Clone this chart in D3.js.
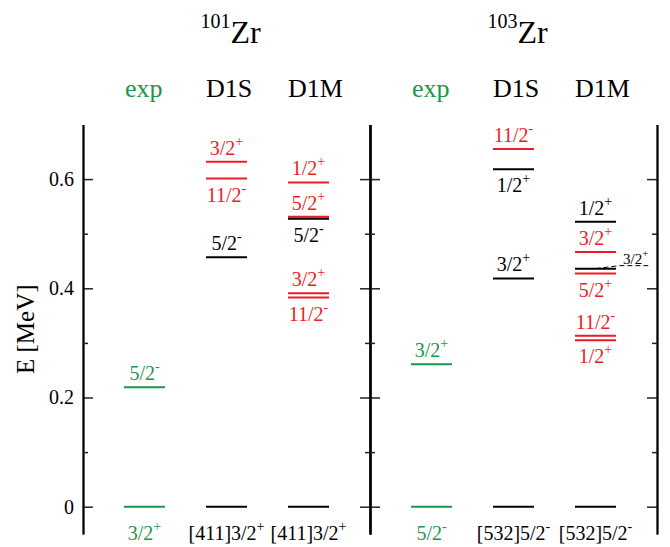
<!DOCTYPE html>
<html>
<head>
<meta charset="utf-8">
<script src="https://cdn.jsdelivr.net/npm/d3@7"></script>
<style>
  html, body { margin: 0; padding: 0; background: #fff; }
  svg { display: block; font-family: "Liberation Serif", "Times New Roman", serif; }
</style>
</head>
<body>
<svg id="chart" width="670" height="547"></svg>
<script>
// Nuclei and the three level schemes shown for each
const massNumbers = ["101", "103"];
const methods = ["exp", "D1S", "D1M"];

// Energy levels in MeV; J = spin label, P = parity, alt = second (red) set,
// label = where the spin label sits relative to its level
const zr101Exp = [
  { E: 0,     J: "3/2",      P: "+", label: "ground" },
  { E: 0.219, J: "5/2",      P: "-", label: "above" }
];
const zr101D1S = [
  { E: 0,     J: "[411]3/2", P: "+", label: "ground" },
  { E: 0.457, J: "5/2",      P: "-", label: "above" },
  { E: 0.601, J: "11/2",     P: "-", label: "below", alt: true },
  { E: 0.632, J: "3/2",      P: "+", label: "above", alt: true }
];
const zr101D1M = [
  { E: 0,      J: "[411]3/2", P: "+", label: "ground" },
  { E: 0.383,  J: "11/2",     P: "-", label: "below", alt: true },
  { E: 0.391,  J: "3/2",      P: "+", label: "above", alt: true },
  { E: 0.531,  J: "5/2",      P: "+", label: "above", alt: true },
  { E: 0.5275, J: "5/2",      P: "-", label: "below" },
  { E: 0.594,  J: "1/2",      P: "+", label: "above", alt: true }
];
const zr103Exp = [
  { E: 0,     J: "5/2",      P: "-", label: "ground" },
  { E: 0.261, J: "3/2",      P: "+", label: "above" }
];
const zr103D1S = [
  { E: 0,     J: "[532]5/2", P: "-", label: "ground" },
  { E: 0.418, J: "3/2",      P: "+", label: "above" },
  { E: 0.618, J: "1/2",      P: "+", label: "below" },
  { E: 0.655, J: "11/2",     P: "-", label: "above", alt: true }
];
const zr103D1M = [
  { E: 0,      J: "[532]5/2", P: "-", label: "ground" },
  { E: 0.305,  J: "1/2",      P: "+", label: "below", alt: true },
  { E: 0.313,  J: "11/2",     P: "-", label: "above", alt: true },
  { E: 0.427,  J: "5/2",      P: "+", label: "below", alt: true },
  { E: 0.4665, J: "3/2",      P: "+", label: "above", alt: true },
  { E: 0.436,  J: "3/2",      P: "+", label: "aside" },
  { E: 0.522,  J: "1/2",      P: "+", label: "above" }
];

const schemes = {
  "101": { exp: zr101Exp, D1S: zr101D1S, D1M: zr101D1M },
  "103": { exp: zr103Exp, D1S: zr103D1S, D1M: zr103D1M }
};

const yTicksMajor = [0, 0.2, 0.4, 0.6];
const yTicksMinor = [0.1, 0.3, 0.5];
const yDomain = [-0.05, 0.7];

// ---- layout ----
const svg = d3.select("#chart");
const FONT = "'Liberation Serif', 'Times New Roman', serif";
const GREEN = "#1b9748";
const RED = "#ec1c24";
const BLACK = "#000";

const y = d3.scaleLinear().domain(yDomain).range([534, 124.5]);
const panelX = d3.scaleBand().domain(massNumbers).range([83, 657]);
const colX = d3.scalePoint().domain(methods).range([61.5, 225.5]);
const halfW = 20.5;

function levelColor(method, d) {
  if (method === "exp") return GREEN;
  return d.alt ? RED : BLACK;
}

// ---- axes ----
function styleAxis(g) {
  g.selectAll("path.domain").attr("stroke", "#000").attr("stroke-width", 1.8);
  g.selectAll(".tick line").attr("stroke", "#222").attr("stroke-width", 1.5);
  g.selectAll(".tick text").attr("font-family", FONT).attr("font-size", 20).attr("fill", "#000");
}

const xLeft = panelX("101");
const xMid = panelX("103");
const xRight = panelX("103") + panelX.bandwidth();

// left axis: ticks pointing inward, labels outside
svg.append("g").attr("transform", `translate(${xLeft},0)`)
  .call(d3.axisLeft(y).tickValues(yTicksMajor).tickSizeInner(-10).tickSizeOuter(0)
    .tickPadding(9).tickFormat(d => d === 0 ? "0" : d3.format(".1f")(d)))
  .call(styleAxis);
svg.append("g").attr("transform", `translate(${xLeft},0)`)
  .call(d3.axisLeft(y).tickValues(yTicksMinor).tickSizeInner(-5).tickSizeOuter(0).tickFormat(""))
  .call(styleAxis);

// middle axis: ticks on both sides
[d3.axisLeft, d3.axisRight].forEach(ax => {
  svg.append("g").attr("transform", `translate(${xMid},0)`)
    .call(ax(y).tickValues(yTicksMajor).tickSizeInner(10).tickSizeOuter(0).tickFormat(""))
    .call(styleAxis);
  svg.append("g").attr("transform", `translate(${xMid},0)`)
    .call(ax(y).tickValues(yTicksMinor).tickSizeInner(5).tickSizeOuter(0).tickFormat(""))
    .call(styleAxis);
});

// right axis: ticks pointing inward
svg.append("g").attr("transform", `translate(${xRight},0)`)
  .call(d3.axisRight(y).tickValues(yTicksMajor).tickSizeInner(-10).tickSizeOuter(0).tickFormat(""))
  .call(styleAxis);
svg.append("g").attr("transform", `translate(${xRight},0)`)
  .call(d3.axisRight(y).tickValues(yTicksMinor).tickSizeInner(-5).tickSizeOuter(0).tickFormat(""))
  .call(styleAxis);

// y-axis title
svg.append("text")
  .attr("transform", `translate(34,${(y.range()[0] + y.range()[1]) / 2}) rotate(-90)`)
  .attr("text-anchor", "middle")
  .attr("font-family", FONT).attr("font-size", 25)
  .text("E [MeV]");

// ---- helpers ----
function spinLabel(sel, d, size, supSize, supShift) {
  sel.append("tspan").attr("font-size", size).text(d.J);
  sel.append("tspan").attr("font-size", supSize).attr("dy", -supShift).text(d.P);
}

// ---- panels ----
massNumbers.forEach(A => {
  const x0 = panelX(A);
  const g = svg.append("g").attr("transform", `translate(${x0},0)`);

  // nucleus title
  const t = g.append("text")
    .attr("x", panelX.bandwidth() / 2 + 4).attr("y", 43)
    .attr("text-anchor", "middle").attr("font-family", FONT);
  t.append("tspan").attr("font-size", 20).attr("dy", -15).text(A);
  t.append("tspan").attr("font-size", 32).attr("dy", 15).text("Zr");

  methods.forEach(m => {
    const cx = colX(m);

    // column header
    g.append("text")
      .attr("x", cx - halfW + (m === "exp" ? 1 : 0)).attr("y", 97)
      .attr("font-family", FONT).attr("font-size", 26)
      .attr("fill", m === "exp" ? GREEN : BLACK)
      .text(m);

    const levels = schemes[A][m];

    levels.forEach(d => {
      const col = levelColor(m, d);
      const yy = y(d.E);

      g.append("line")
        .attr("x1", cx - halfW).attr("x2", cx + halfW)
        .attr("y1", yy).attr("y2", yy)
        .attr("stroke", col).attr("stroke-width", 2);

      if (d.label === "aside") {
        // dashed leader to a side label
        g.append("path")
          .attr("d", d3.line()([[cx, yy], [cx + halfW + 3, yy - 3], [cx + halfW + 34, yy - 3]]))
          .attr("fill", "none").attr("stroke", col)
          .attr("stroke-width", 1).attr("stroke-dasharray", "5,3");
        const tx = g.append("text")
          .attr("x", cx + halfW + 7).attr("y", yy - 5)
          .attr("font-family", FONT).attr("fill", col);
        spinLabel(tx, d, 15, 11, 7);
        return;
      }

      let ty;
      if (d.label === "above") ty = yy - 7;
      else if (d.label === "below") ty = yy + 23;
      else ty = yy + 33;

      const tx = g.append("text")
        .attr("x", cx).attr("y", ty)
        .attr("text-anchor", "middle")
        .attr("font-family", FONT).attr("fill", col);
      spinLabel(tx, d, 20, 14, 9);
    });
  });
});
</script>
</body>
</html>
